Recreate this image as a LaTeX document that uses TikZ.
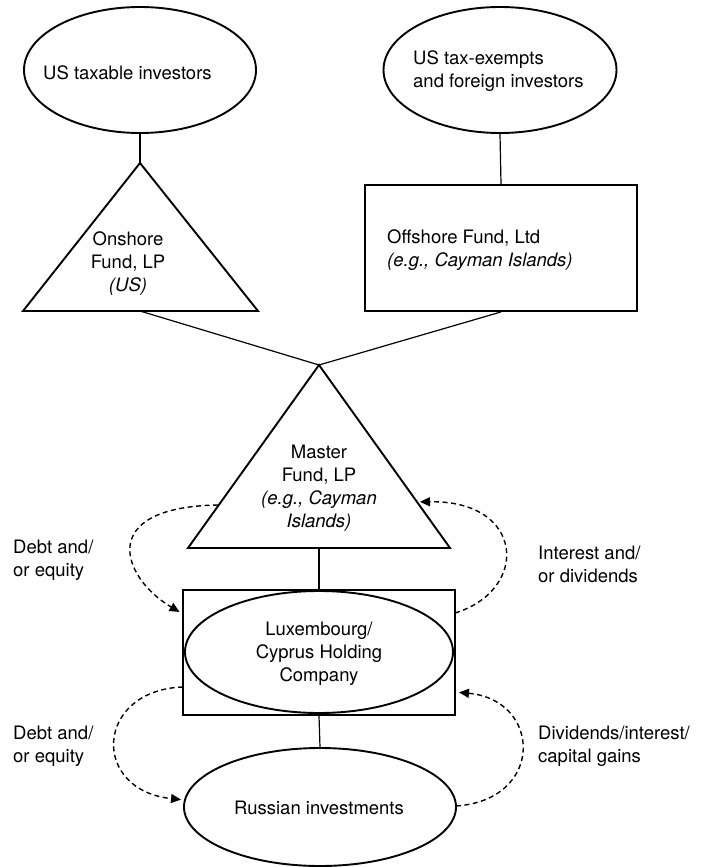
\documentclass[tikz,border=0pt]{standalone}
\usepackage{fontspec}
\setmainfont{TeX Gyre Heros}
\usetikzlibrary{arrows.meta,shapes.geometric}
\tikzset{
  shp/.style={draw=black, line width=1.9pt},
  ell/.style={shp, ellipse, inner sep=0pt},
  boxnode/.style={shp, rectangle, inner sep=0pt},
  conn/.style={draw=black, line width=1.2pt},
  flow/.style={draw=black, line width=1.4pt, dash pattern=on 5pt off 3.5pt,
    -{Triangle[length=10pt,width=9pt]}, shorten >=4pt},
  txt/.style={font=\fontsize{18.5}{23}\selectfont, inner sep=0pt, text=black},
}
\begin{document}
\begin{tikzpicture}[x=1pt,y=-1pt]
\useasboundingbox (0,0) rectangle (707,867);

% top ellipses
\node[ell, minimum width=232pt, minimum height=126pt] (e1) at (140,70) {};
\node[ell, minimum width=233pt, minimum height=126pt] (e2) at (500,70) {};
\node[txt, anchor=north west, align=left] (t1) at (43,63.4) {\strut US taxable investors};
\node[txt, anchor=north west, align=left] (t2) at (413,48.4) {\strut US tax-exempts\\and foreign investors};

% onshore triangle
\coordinate (onA) at (140,163);
\coordinate (onL) at (23,311);
\coordinate (onR) at (258,311);
\coordinate (onB) at (140,311);
\draw[shp, line join=miter] (onA) -- (onR) -- (onL) -- cycle;
\node[txt, anchor=north, align=center] (t3) at (128,229.4) {\strut Onshore\\Fund, LP\\\textit{(US)}};

% offshore box
\node[boxnode, minimum width=272pt, minimum height=126pt] (off) at (501,248) {};
\node[txt, anchor=north west, align=left] (t4) at (387,227.4) {\strut Offshore Fund, Ltd\\\textit{(e.g., Cayman Islands)}};

% master triangle
\coordinate (maA) at (319,365);
\coordinate (maL) at (188,548);
\coordinate (maR) at (450,548);
\coordinate (maB) at (319,548);
\draw[shp, line join=miter] (maA) -- (maR) -- (maL) -- cycle;
\node[txt, anchor=north, align=center] (t5) at (319,442.4) {\strut Master\\Fund, LP\\\textit{(e.g., Cayman}\\\textit{Islands)}};

% holding company
\node[boxnode, minimum width=272pt, minimum height=125pt] (luxbox) at (319,652.5) {};
\node[ell, minimum width=268pt, minimum height=122pt] (lux) at (319,652) {};
\node[txt, anchor=north, align=center] (t6) at (319,619.4) {\strut Luxembourg/\\Cyprus Holding\\Company};

% russian investments
\node[ell, minimum width=272pt, minimum height=118pt] (rus) at (320,807) {};
\node[txt, anchor=north, align=center] (t7) at (319,798.4) {\strut Russian investments};

% connectors
\draw[conn] (e1.south) -- (onA);
\draw[conn] (e2.south) -- (off.north);
\draw[conn] (onB) -- (maA);
\draw[conn] (off.south) -- (maA);
\draw[conn] (maB) -- (luxbox.north);
\draw[conn] (luxbox.south) -- (rus.north);

% flow arrows
\coordinate (a1s) at (218,505);
\coordinate (a1e) at (183,614);
\coordinate (a2s) at (455,613);
\coordinate (a2e) at (416,502);
\coordinate (a3s) at (183,687);
\coordinate (a3e) at (185,800);
\coordinate (a4s) at (456,806);
\coordinate (a4e) at (455,692);
\draw[flow] (a1s) .. controls (95,507) and (122,578) .. (a1e);
\draw[flow] (a2s) .. controls (530,590) and (525,500) .. (a2e);
\draw[flow] (a3s) .. controls (95,690) and (90,790) .. (a3e);
\draw[flow] (a4s) .. controls (545,800) and (542,700) .. (a4e);

% flow labels
\node[txt, anchor=north west, align=left] (l1) at (13,537.4) {\strut Debt and/\\or equity};
\node[txt, anchor=north west, align=left] (l2) at (538,543.4) {\strut Interest and/\\or dividends};
\node[txt, anchor=north west, align=left] (l3) at (13,723.4) {\strut Debt and/\\or equity};
\node[txt, anchor=north west, align=left] (l4) at (538,723.4) {\strut Dividends/interest/\\capital gains};
\end{tikzpicture}
\end{document}
